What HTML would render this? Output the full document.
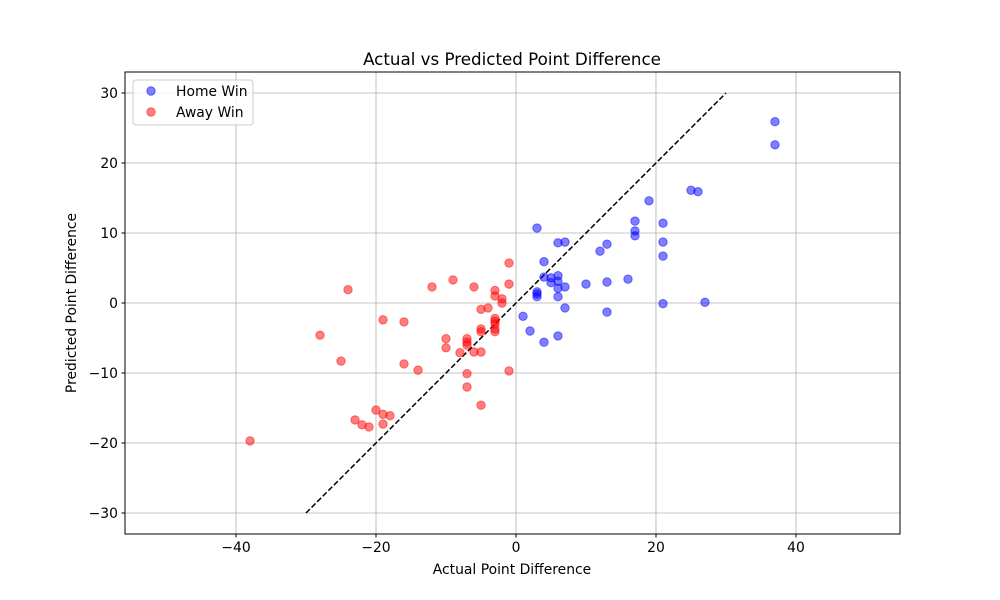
<!DOCTYPE html>
<html><head><meta charset="utf-8"><style>
html,body{margin:0;padding:0;background:#fff;}
svg{display:block;font-family:"DejaVu Sans","Liberation Sans",sans-serif;}
</style></head><body>
<svg id="chart" width="1000" height="600">
<rect width="1000" height="600" fill="#fff"/>
<text x="512" y="65" text-anchor="middle" font-size="16.7">Actual vs Predicted Point Difference</text>
<g id="grid"></g>
<g id="diag"></g>
<g id="pts"></g>
<rect x="125" y="72" width="775" height="462" fill="none" stroke="#000" stroke-width="1"/>
<g id="ticks" font-size="13.9"></g>
<text x="512" y="574" text-anchor="middle" font-size="13.9">Actual Point Difference</text>
<text transform="translate(76,303) rotate(-90)" text-anchor="middle" font-size="13.9">Predicted Point Difference</text>
<g>
<rect x="133" y="80" width="120" height="45" rx="3" fill="#fff" fill-opacity="0.8" stroke="#ccc"/>
<circle cx="151" cy="91" r="4.2" fill="rgba(0,0,255,0.5)" stroke="rgba(0,0,255,0.5)"/>
<text x="176" y="96" font-size="13.9">Home Win</text>
<circle cx="151" cy="112" r="4.2" fill="rgba(255,0,0,0.5)" stroke="rgba(255,0,0,0.5)"/>
<text x="176" y="117" font-size="13.9">Away Win</text>
</g>
</svg>
<script>
const xTicks=[-40,-20,0,20,40];
const yTicks=[-30,-20,-10,0,10,20,30];
const homeX=[37,37,25,26,19,3,17,17,17,21,21,21,21,6,7,13,12,4,4,5,6,6,5,6,7,10,13,16,3,3,3,6,7,27,1,13,2,4,6];
const homeY=[25.9,22.6,16.1,15.9,14.6,10.7,11.7,10.3,9.6,11.4,8.7,6.7,-0.1,8.6,8.7,8.4,7.4,5.9,3.7,3.6,3.9,3.1,2.9,2.1,2.3,2.7,3.0,3.4,1.6,1.3,0.9,0.9,-0.7,0.1,-1.9,-1.3,-4.0,-5.6,-4.7];
const awayX=[-38,-28,-25,-24,-23,-22,-21,-20,-19,-19,-18,-19,-16,-16,-14,-12,-10,-10,-9,-8,-7,-7,-7,-7,-7,-6,-6,-5,-5,-5,-5,-5,-4,-3,-3,-3,-3,-3,-3,-3,-2,-2,-1,-1,-1];
const awayY=[-19.7,-4.6,-8.3,1.9,-16.7,-17.4,-17.7,-15.3,-15.9,-17.3,-16.1,-2.4,-2.7,-8.7,-9.6,2.3,-5.1,-6.4,3.3,-7.1,-5.1,-5.6,-6.0,-10.1,-12.0,2.3,-7.0,-0.9,-3.7,-4.1,-7.0,-14.6,-0.7,1.8,1.0,-2.2,-2.6,-3.0,-3.7,-4.1,0.6,0,5.7,2.7,-9.7];
const diagLine=[-30,30];
const X0=125,X1=900,Y0=534,Y1=72,XMIN=-55.86,XMAX=54.86,YMIN=-33,YMAX=33;
const sx=v=>X0+(v-XMIN)/(XMAX-XMIN)*(X1-X0);
const sy=v=>Y0-(v-YMIN)/(YMAX-YMIN)*(Y0-Y1);
const NS="http://www.w3.org/2000/svg";
function mk(tag,attrs,parent){const e=document.createElementNS(NS,tag);for(const k in attrs)e.setAttribute(k,attrs[k]);parent.appendChild(e);return e;}
const grid=document.getElementById('grid'),ticks=document.getElementById('ticks');
xTicks.forEach(t=>{const x=sx(t);
 const g=mk('line',{x1:x,x2:x,y1:Y1,y2:Y0,stroke:'#b0b0b0','stroke-width':0.8},grid);
 
 
 mk('line',{x1:x,x2:x,y1:Y0,y2:Y0+3.5,stroke:'#000'},ticks);
 const tx=mk('text',{x:x,y:Y0+18,'text-anchor':'middle'},ticks);tx.textContent=t<0?'−'+(-t):t;
 
 });
yTicks.forEach(t=>{const y=sy(t);
 const g=mk('line',{x1:X0,x2:X1,y1:y,y2:y,stroke:'#b0b0b0','stroke-width':0.8},grid);
 
 
 mk('line',{x1:X0-3.5,x2:X0,y1:y,y2:y,stroke:'#000'},ticks);
 const tx=mk('text',{x:X0-7,y:y+5,'text-anchor':'end'},ticks);tx.textContent=t<0?'−'+(-t):t;
 
 });
const d=mk('line',{x1:sx(diagLine[0]),y1:sy(diagLine[0]),x2:sx(diagLine[1]),y2:sy(diagLine[1]),stroke:'#000','stroke-width':1.5,'stroke-dasharray':'5.5,2.4'},document.getElementById('diag'));


const pts=document.getElementById('pts');
homeX.forEach((v,i)=>{const c=mk('circle',{cx:sx(v),cy:sy(homeY[i]),r:4.2,fill:'rgba(0,0,255,0.5)',stroke:'rgba(0,0,255,0.5)'},pts);
 
 });
awayX.forEach((v,i)=>{const c=mk('circle',{cx:sx(v),cy:sy(awayY[i]),r:4.2,fill:'rgba(255,0,0,0.5)',stroke:'rgba(255,0,0,0.5)'},pts);
 
 });
</script>
</body></html>
